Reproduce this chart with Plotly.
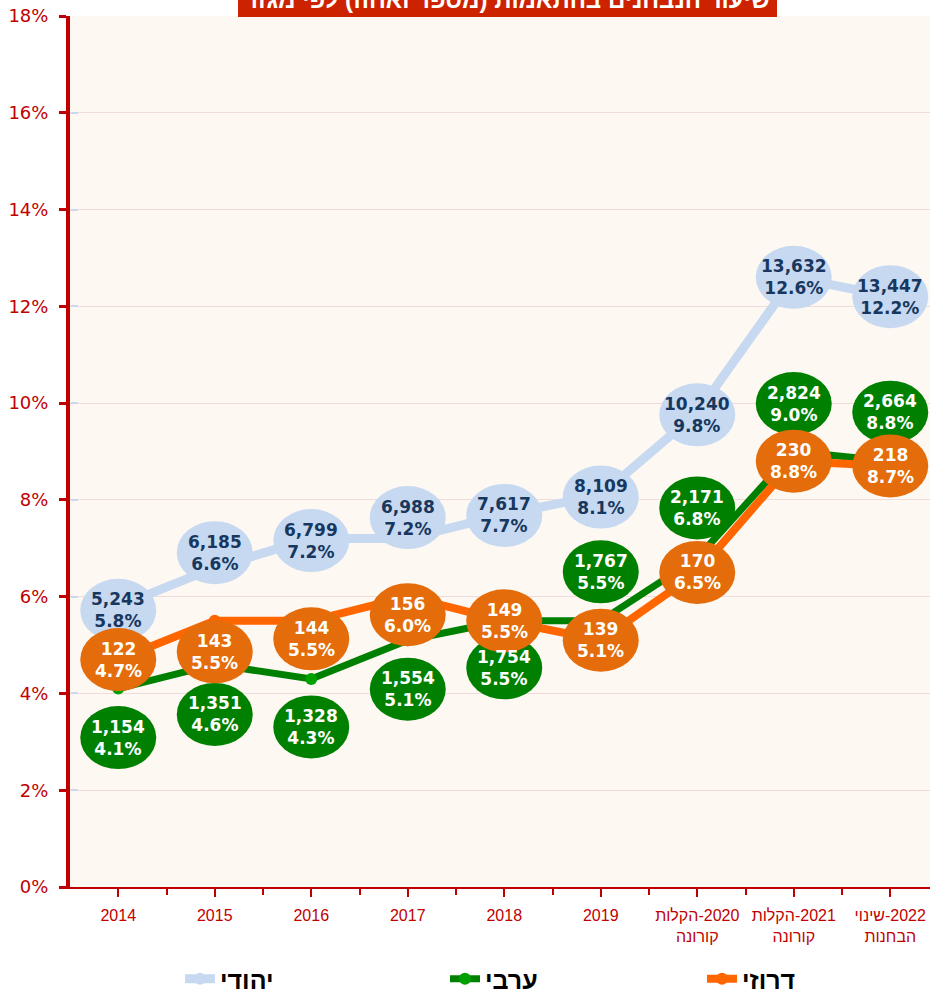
import plotly.graph_objects as go

RLM = "\u200f"  # right-to-left mark so the Hebrew category labels read right-to-left

# ---- data ----
categories = ["2014", "2015", "2016", "2017", "2018", "2019",
              RLM + "2020-הקלות<br>קורונה", RLM + "2021-הקלות<br>קורונה", RLM + "2022-שינוי<br>הבחנות"]

jewish_count = [5243, 6185, 6799, 6988, 7617, 8109, 10240, 13632, 13447]
jewish_pct = [5.8, 6.6, 7.2, 7.2, 7.7, 8.1, 9.8, 12.6, 12.2]

arab_count = [1154, 1351, 1328, 1554, 1754, 1767, 2171, 2824, 2664]
arab_pct = [4.1, 4.6, 4.3, 5.1, 5.5, 5.5, 6.8, 9.0, 8.8]

druze_count = [122, 143, 144, 156, 149, 139, 170, 230, 218]
druze_pct = [4.7, 5.5, 5.5, 6.0, 5.5, 5.1, 6.5, 8.8, 8.7]

series_names = ["יהודי", "ערבי", "דרוזי"]
title_text = "שיעור הנבחנים בהתאמות (מספר ואחוז) לפי מגזר"

# ---- label placement (pixel offsets, up = positive) ----
jewish_shift = [-4, 15, -2, 21, -1, -2, -2, 0, 0]
arab_shift = [-49, -50, -48, -49, -47, 49, 50, 48, 49]
druze_shift = [0, -31, -18, -18, 0, 0, 0, 0, 0]

# ---- styles ----
RED = "#C00000"
BLUE_L = "#C6D9F1"
GREEN = "#008000"
ORANGE_LINE = "#FF6600"
ORANGE_BUB = "#E46C0A"
NAVY = "#17375E"

PLOT_L, PLOT_T, PLOT_W, PLOT_H = 70, 16, 860, 871
legend_left_px = [180, 445, 702]

xs = list(range(len(categories)))

fig = go.Figure()

series = [
    (series_names[0], jewish_count, jewish_pct, jewish_shift, BLUE_L, BLUE_L, BLUE_L, NAVY, 9, "legend"),
    (series_names[1], arab_count, arab_pct, arab_shift, GREEN, "#00A000", GREEN, "white", 7, "legend2"),
    (series_names[2], druze_count, druze_pct, druze_shift, ORANGE_LINE, ORANGE_LINE, ORANGE_BUB, "white", 8, "legend3"),
]

for name, cnt, pct, shift, lc, mc, bub, tc, lw, lg in series:
    fig.add_trace(go.Scatter(
        x=xs, y=pct, name=name, mode="lines+markers",
        line=dict(color=lc, width=lw),
        marker=dict(color=mc, size=12),
        hoverinfo="skip", legend=lg,
    ))

shapes = []
annotations = []
for name, cnt, pct, shift, lc, mc, bub, tc, lw, lg in series:
    for x, c, p, s in zip(xs, cnt, pct, shift):
        shapes.append(dict(
            type="circle", xref="x", yref="y",
            xsizemode="pixel", ysizemode="pixel",
            xanchor=x, yanchor=p,
            x0=-38, x1=38, y0=s - 31.5, y1=s + 31.5,
            fillcolor=bub, line=dict(width=0), layer="above",
        ))
        annotations.append(dict(
            x=x, y=p, xref="x", yref="y", yshift=s,
            text=f"{c:,}<br>{p:.1f}%", showarrow=False,
            font=dict(family="DejaVu Sans", size=17, color=tc, weight="bold"),
            align="center",
        ))

# title box (cut off at top, as in the reference)
shapes.append(dict(
    type="rect", xref="paper", yref="paper",
    x0=(238 - PLOT_L) / PLOT_W, x1=(777 - PLOT_L) / PLOT_W,
    y0=1 - 1 / PLOT_H, y1=1 + 30 / PLOT_H,
    fillcolor="#CD2200", line=dict(width=0), layer="above",
))
annotations.append(dict(
    x=(507 - PLOT_L) / PLOT_W, y=1 + 17 / PLOT_H, xref="paper", yref="paper",
    text=title_text, showarrow=False, yanchor="middle",
    font=dict(family="Liberation Sans", size=24, color="white", weight="bold"),
))

# secondary (cut-off) axis ticks at the far left
fig.add_trace(go.Scatter(x=[], y=[], yaxis="y2", showlegend=False, hoverinfo="skip"))

legend_font = dict(family="Liberation Sans", size=25, color="black", weight="bold")
legend_y = -92 / PLOT_H


def legend_at(px):
    return dict(
        orientation="h", x=(px - PLOT_L) / PLOT_W, xanchor="left",
        y=legend_y, yanchor="middle",
        font=legend_font, bgcolor="rgba(0,0,0,0)",
    )


fig.update_layout(
    width=930, height=991,
    margin=dict(l=PLOT_L, r=930 - PLOT_L - PLOT_W, t=PLOT_T, b=991 - PLOT_T - PLOT_H,
                autoexpand=False),
    paper_bgcolor="white",
    plot_bgcolor="#FDF8F2",
    showlegend=True,
    legend=legend_at(legend_left_px[0]),
    legend2=legend_at(legend_left_px[1]),
    legend3=legend_at(legend_left_px[2]),
    xaxis=dict(
        range=[-0.5, -0.5 + PLOT_W / 96.5],
        tickmode="array", tickvals=xs, ticktext=categories,
        ticks="outside", ticklen=8, tickwidth=1.5, tickcolor=RED,
        minor=dict(tickmode="array", tickvals=[x + 0.5 for x in xs],
                   ticks="outside", ticklen=6, tickwidth=1.5, tickcolor=RED),
        showline=True, linecolor=RED, linewidth=2,
        showgrid=False, zeroline=False, automargin=False,
        tickfont=dict(family="Liberation Sans", size=16, color=RED),
        ticklabelstandoff=5,
        fixedrange=True,
    ),
    yaxis=dict(
        range=[0, 18], dtick=2, tick0=0, ticksuffix="%",
        ticks="outside", ticklen=7, tickwidth=3, tickcolor=RED,
        showline=True, linecolor=RED, linewidth=4,
        showgrid=True, gridcolor="#F2DCDB", gridwidth=1,
        zeroline=False, automargin=False,
        tickfont=dict(family="DejaVu Sans", size=18, color=RED),
        ticklabelstandoff=7,
        fixedrange=True,
    ),
    yaxis2=dict(
        overlaying="y", anchor="free", position=0, side="left",
        range=[0, 18], dtick=2, tick0=0,
        ticks="inside", ticklen=7, tickwidth=1.5, tickcolor=BLUE_L,
        showticklabels=False, showgrid=False, zeroline=False, showline=False,
        automargin=False, fixedrange=True,
    ),
    shapes=shapes,
    annotations=annotations,
)

fig.write_html(
    "out.html",
    config={"displayModeBar": False},
    post_script="document.body.style.margin='0';document.body.style.overflow='hidden';",
)
